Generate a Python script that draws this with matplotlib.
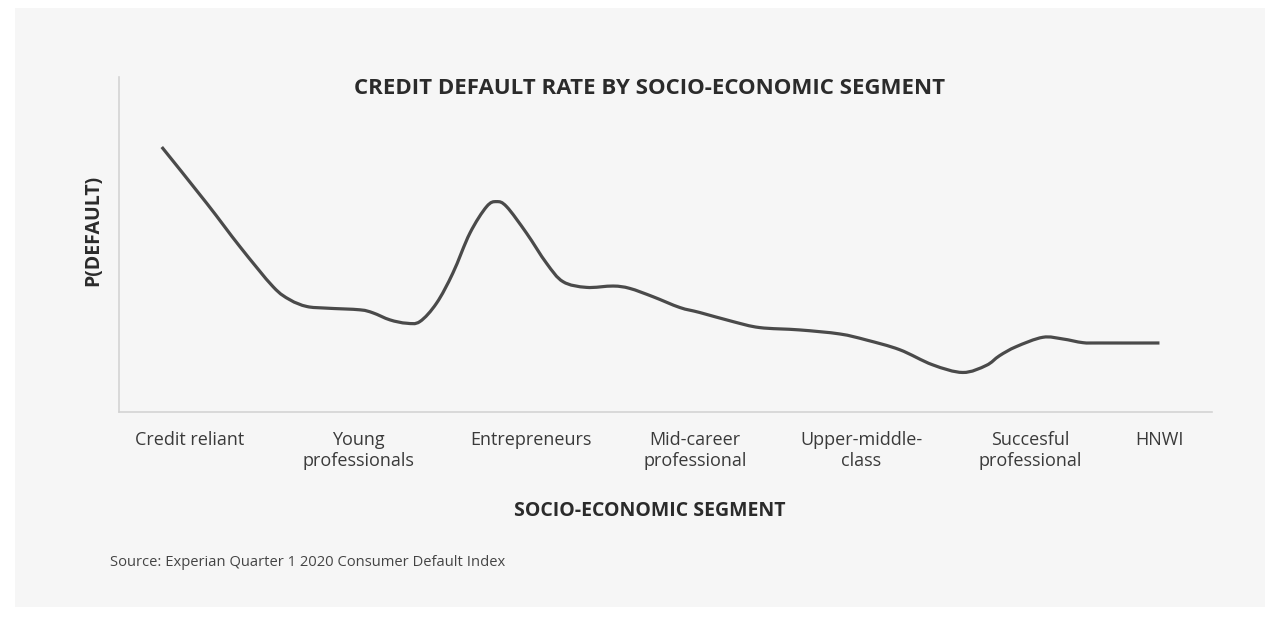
import matplotlib
matplotlib.use("Agg")
import matplotlib.pyplot as plt
from matplotlib.patches import Rectangle, PathPatch
from matplotlib.path import Path

# segment labels and where they sit along the axis (segment units)
segments = ["Credit reliant", "Young\nprofessionals", "Entrepreneurs",
            "Mid-career\nprofessional", "Upper-middle-\nclass",
            "Succesful\nprofessional", "HNWI"]
segment_pos = [0.0, 1.005, 2.03, 3.0, 3.99, 4.99, 5.76]

# curve: position along axis, relative P(default)
curve_x = [-0.165, 0.102, 0.300, 0.496, 0.596, 0.696, 0.814, 1.012, 1.089,
           1.190, 1.289, 1.368, 1.467, 1.564, 1.665, 1.764, 1.823, 1.883,
           2.001, 2.120, 2.218, 2.357, 2.515, 2.614, 2.753, 2.911, 3.030,
           3.226, 3.386, 3.623, 3.861, 4.019, 4.217, 4.412, 4.592, 4.731,
           4.810, 4.909, 5.067, 5.186, 5.305, 5.404, 5.760]
curve_y = [0.791, 0.623, 0.493, 0.374, 0.335, 0.315, 0.310, 0.305, 0.296,
           0.275, 0.265, 0.270, 0.325, 0.415, 0.534, 0.613, 0.628, 0.613,
           0.534, 0.444, 0.389, 0.372, 0.376, 0.369, 0.344, 0.312, 0.297,
           0.270, 0.252, 0.245, 0.233, 0.215, 0.186, 0.141, 0.118, 0.139,
           0.168, 0.195, 0.223, 0.218, 0.207, 0.206, 0.206]


def smooth_path(xs, ys):
    # pass through every point, Catmull-Rom style bezier handles
    pts = list(zip(xs, ys))
    verts = [pts[0]]
    codes = [Path.MOVETO]
    n = len(pts)
    for i in range(n - 1):
        p0 = pts[max(i - 1, 0)]
        p1, p2 = pts[i], pts[i + 1]
        p3 = pts[min(i + 2, n - 1)]
        c1 = (p1[0] + (p2[0] - p0[0]) / 6, p1[1] + (p2[1] - p0[1]) / 6)
        c2 = (p2[0] - (p3[0] - p1[0]) / 6, p2[1] - (p3[1] - p1[1]) / 6)
        verts += [c1, c2, p2]
        codes += [Path.CURVE4] * 3
    return Path(verts, codes)


W, H = 1265, 622
fig = plt.figure(figsize=(W / 100, H / 100), dpi=100)
fig.patch.set_facecolor("white")
fig.patches.append(Rectangle((15 / W, 1 - 607 / H), 1 - 15 / W, (607 - 8) / H,
                             transform=fig.transFigure, facecolor="#f6f6f6",
                             edgecolor="none", zorder=-5))

font = "Open Sans"
ax = fig.add_axes([119 / W, 1 - 412 / H, (1212 - 119) / W, (412 - 77) / H])
ax.set_zorder(2)
ax.set_facecolor("none")
ax.add_patch(PathPatch(smooth_path(curve_x, curve_y), facecolor="none",
                       edgecolor="#4a4a4a", lw=2.3, joinstyle="round",
                       capstyle="butt"))
ax.set_xlim(-0.419, 6.072)
ax.set_ylim(0, 1)

for side in ["top", "right"]:
    ax.spines[side].set_visible(False)
for side in ["left", "bottom"]:
    ax.spines[side].set_color("#d4d4d4")
    ax.spines[side].set_linewidth(1.2)
ax.set_yticks([])
ax.set_xticks(segment_pos)
ax.set_xticklabels(segments, fontfamily=font, fontsize=13, color="#3a3a3a",
                   linespacing=1.2)
ax.tick_params(axis="x", length=0, pad=14)

fig.text(650 / W, 1 - 88 / H, "CREDIT DEFAULT RATE BY SOCIO-ECONOMIC SEGMENT",
         ha="center", va="center", fontfamily=font, fontweight="bold",
         fontsize=16, color="#2b2b2b")
fig.text(93 / W, 1 - 230 / H, "P(DEFAULT)", rotation=90, ha="center",
         va="center", fontfamily=font, fontweight="bold", fontsize=14,
         color="#2b2b2b")
fig.text(650 / W, 1 - 511 / H, "SOCIO-ECONOMIC SEGMENT", ha="center",
         va="center", fontfamily=font, fontweight="bold", fontsize=14,
         color="#2b2b2b")
fig.text(110 / W, 1 - 563 / H, "Source: Experian Quarter 1 2020 Consumer Default Index",
         ha="left", va="center", fontfamily=font, fontsize=10.6, color="#444444")

fig.savefig("out.png", dpi=100, facecolor=fig.get_facecolor())
